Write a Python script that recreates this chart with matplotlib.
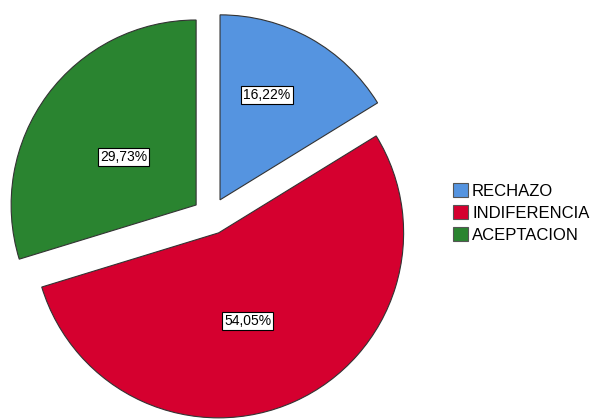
import matplotlib
matplotlib.use("Agg")
import matplotlib.pyplot as plt
import numpy as np

plt.rcParams['font.family'] = ['Liberation Sans', 'DejaVu Sans']

# datos
categorias = ["RECHAZO", "INDIFERENCIA", "ACEPTACION"]
porcentajes = [16.22, 54.05, 29.73]
colores = ["#5594E0", "#D5002F", "#2A8430"]

W, H = 593, 419
fig = plt.figure(figsize=(W / 100, H / 100), dpi=100)
ax = fig.add_axes([0, 0, 1, 1])

R = 185.0  # radio en px
cx, cy = 211, 216

wedges, _ = ax.pie(
    porcentajes,
    colors=colores,
    startangle=90,
    counterclock=False,
    explode=[0.1] * 3,
    radius=1,
    wedgeprops=dict(edgecolor="#333333", linewidth=0.8),
    frame=True,
)
ax.set_xlim(-cx / R, (W - cx) / R)
ax.set_ylim(-(H - cy) / R, cy / R)
ax.set_aspect("auto")
ax.axis("off")

# etiquetas de porcentaje (distancia y giro respecto al centro de cada sector)
dist = [0.62, 0.50, 0.47]
giro = [5, -6, 3]
for w, p, d, g in zip(wedges, porcentajes, dist, giro):
    ang = np.deg2rad((w.theta1 + w.theta2) / 2 + g)
    x = w.center[0] + d * np.cos(ang)
    y = w.center[1] + d * np.sin(ang)
    ax.text(x, y, f"{p:.2f}%".replace(".", ","), ha="center", va="center",
            fontsize=10, color="black",
            bbox=dict(facecolor="white", edgecolor="black", linewidth=0.8,
                      boxstyle="square,pad=0.15"))

leg = fig.legend(wedges, categorias, loc="center left",
                 bbox_to_anchor=(453 / W, 1 - 213 / H),
                 frameon=False, fontsize=12, handlelength=0.92,
                 handleheight=0.92, handletextpad=0.22, labelspacing=0.36,
                 borderaxespad=0, borderpad=0)
for h in leg.legend_handles:
    h.set_edgecolor("#555555")

fig.savefig("out.png", dpi=100, facecolor="white")
